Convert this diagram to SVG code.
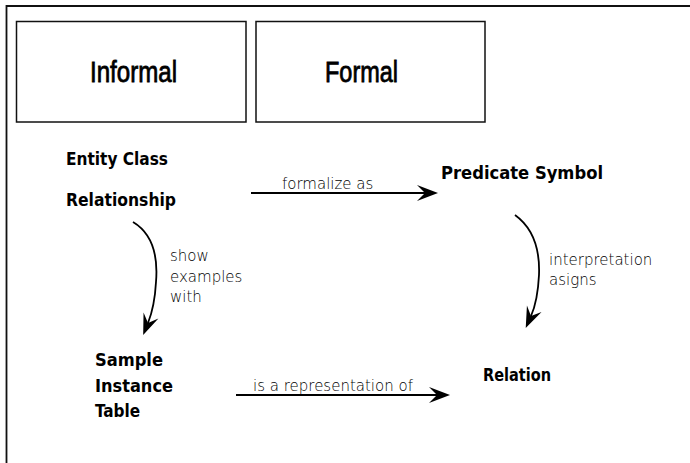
<svg xmlns="http://www.w3.org/2000/svg" width="690" height="463" viewBox="0 0 690 463">
<style>
.frame{fill:none;stroke:#111;stroke-width:1.8}
.box{fill:#fff;stroke:#111;stroke-width:1.5}
.head{font-family:"Liberation Sans Narrow","Liberation Sans",Arial,sans-serif;font-size:29px;fill:#000;stroke:#000;stroke-width:0.8}
.lbl{font-family:"DejaVu Sans Condensed","DejaVu Sans",Verdana,sans-serif;font-stretch:condensed;font-weight:bold;font-size:17px;fill:#000}
.sm{font-family:"DejaVu Sans",Verdana,sans-serif;font-weight:200;font-size:15px;fill:#000}
.edge{fill:none;stroke:#000;stroke-width:2}
.curve{fill:none;stroke:#000;stroke-width:1.8}
</style>
<defs>
<marker id="ah" markerUnits="userSpaceOnUse" markerWidth="30" markerHeight="30" refX="0" refY="0" viewBox="-10 -10 30 20" orient="auto" overflow="visible">
<path d="M13,0 L-8,-8 L0,0 L-8,8 Z" fill="#000"/>
</marker>
</defs>
<rect width="690" height="463" fill="#fff"/>
<path class="frame" d="M6.5,463 V6 H690"/>
<g id="informal">
<rect class="box" x="16.5" y="21.5" width="229.5" height="100.5"/>
<text class="head" x="90" y="82" textLength="87" lengthAdjust="spacingAndGlyphs">Informal</text>
</g>
<g id="formal">
<rect class="box" x="256" y="21.5" width="229" height="100.5"/>
<text class="head" x="325" y="82" textLength="73" lengthAdjust="spacingAndGlyphs">Formal</text>
</g>
<g id="entity-class">
<text class="lbl" x="66" y="165" textLength="102" lengthAdjust="spacingAndGlyphs">Entity Class</text>
</g>
<g id="relationship">
<text class="lbl" x="66" y="206" textLength="110" lengthAdjust="spacingAndGlyphs">Relationship</text>
</g>
<g id="predicate-symbol">
<text class="lbl" x="441" y="179" textLength="162" lengthAdjust="spacingAndGlyphs">Predicate Symbol</text>
</g>
<g id="sample-instance-table">
<text class="lbl" x="95" y="366" textLength="68" lengthAdjust="spacingAndGlyphs">Sample</text>
<text class="lbl" x="95" y="392" textLength="78" lengthAdjust="spacingAndGlyphs">Instance</text>
<text class="lbl" x="95" y="417">Table</text>
</g>
<g id="relation">
<text class="lbl" x="483" y="381" textLength="68" lengthAdjust="spacingAndGlyphs">Relation</text>
</g>
<g id="connectors">
<path class="edge" d="M251,193 H425" marker-end="url(#ah)"/>
<text class="sm" x="282" y="189">formalize as</text>
<path class="edge" d="M236,395 H437" marker-end="url(#ah)"/>
<text class="sm" x="253" y="391">is a representation of</text>
<path class="curve" d="M133,222 C153,234 158,258 156,282 C155,300 152,313 148,323" marker-end="url(#ah)"/>
<text class="sm" x="170" y="261">show</text>
<text class="sm" x="170" y="282">examples</text>
<text class="sm" x="170" y="302">with</text>
<path class="curve" d="M515,215 C533,228 540,250 539,275 C538,295 535,307 531,316" marker-end="url(#ah)"/>
<text class="sm" x="549" y="265">interpretation</text>
<text class="sm" x="549" y="285">asigns</text>
</g>
</svg>
